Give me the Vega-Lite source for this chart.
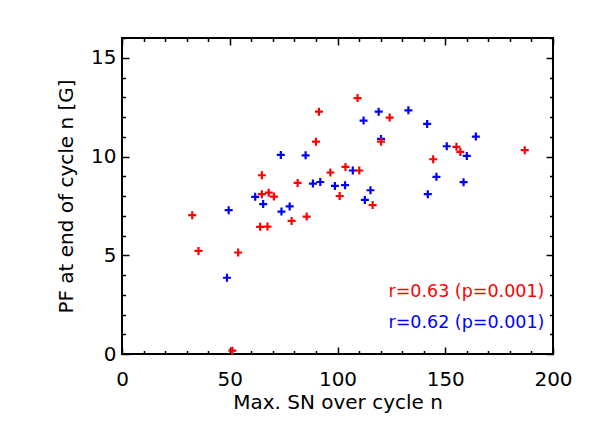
{
  "$schema": "https://vega.github.io/schema/vega-lite/v6.json",
  "width": 431,
  "height": 316,
  "autosize": {"type": "none"},
  "padding": {"left": 122, "top": 38, "right": 38, "bottom": 78},
  "background": "white",
  "config": {
    "view": {"stroke": "black", "strokeWidth": 2},
    "font": "DejaVu Sans",
    "axis": {"grid": false, "domain": false, "labelColor": "black", "titleColor": "black", "tickColor": "black", "labelFont": "DejaVu Sans", "titleFont": "DejaVu Sans", "labelFontSize": 20, "titleFontSize": 20, "titleFontWeight": "normal"}
  },
  "data": {"values": [
    {"sn": 73.7, "pf": 10.08, "series": "Series 2"},
    {"sn": 85.2, "pf": 10.06, "series": "Series 2"},
    {"sn": 88.6, "pf": 8.63, "series": "Series 2"},
    {"sn": 92.0, "pf": 8.71, "series": "Series 2"},
    {"sn": 98.8, "pf": 8.51, "series": "Series 2"},
    {"sn": 61.8, "pf": 7.96, "series": "Series 2"},
    {"sn": 65.5, "pf": 7.59, "series": "Series 2"},
    {"sn": 49.5, "pf": 7.28, "series": "Series 2"},
    {"sn": 74.0, "pf": 7.21, "series": "Series 2"},
    {"sn": 77.8, "pf": 7.47, "series": "Series 2"},
    {"sn": 48.7, "pf": 3.86, "series": "Series 2"},
    {"sn": 112.1, "pf": 11.82, "series": "Series 2"},
    {"sn": 119.1, "pf": 12.27, "series": "Series 2"},
    {"sn": 132.9, "pf": 12.34, "series": "Series 2"},
    {"sn": 141.6, "pf": 11.65, "series": "Series 2"},
    {"sn": 120.2, "pf": 10.89, "series": "Series 2"},
    {"sn": 164.2, "pf": 11.01, "series": "Series 2"},
    {"sn": 150.7, "pf": 10.52, "series": "Series 2"},
    {"sn": 160.0, "pf": 10.03, "series": "Series 2"},
    {"sn": 107.1, "pf": 9.29, "series": "Series 2"},
    {"sn": 103.5, "pf": 8.55, "series": "Series 2"},
    {"sn": 115.3, "pf": 8.29, "series": "Series 2"},
    {"sn": 112.7, "pf": 7.80, "series": "Series 2"},
    {"sn": 145.9, "pf": 8.97, "series": "Series 2"},
    {"sn": 141.9, "pf": 8.09, "series": "Series 2"},
    {"sn": 158.5, "pf": 8.70, "series": "Series 2"},
    {"sn": 91.4, "pf": 12.27, "series": "Series 1"},
    {"sn": 90.0, "pf": 10.75, "series": "Series 1"},
    {"sn": 64.9, "pf": 9.05, "series": "Series 1"},
    {"sn": 96.7, "pf": 9.19, "series": "Series 1"},
    {"sn": 81.5, "pf": 8.66, "series": "Series 1"},
    {"sn": 64.9, "pf": 8.09, "series": "Series 1"},
    {"sn": 68.1, "pf": 8.17, "series": "Series 1"},
    {"sn": 70.5, "pf": 7.97, "series": "Series 1"},
    {"sn": 101.0, "pf": 8.0, "series": "Series 1"},
    {"sn": 32.6, "pf": 7.03, "series": "Series 1"},
    {"sn": 35.5, "pf": 5.22, "series": "Series 1"},
    {"sn": 53.9, "pf": 5.14, "series": "Series 1"},
    {"sn": 64.1, "pf": 6.44, "series": "Series 1"},
    {"sn": 67.5, "pf": 6.45, "series": "Series 1"},
    {"sn": 78.7, "pf": 6.74, "series": "Series 1"},
    {"sn": 85.7, "pf": 6.96, "series": "Series 1"},
    {"sn": 51.2, "pf": 0.17, "series": "Series 1"},
    {"sn": 109.3, "pf": 12.96, "series": "Series 1"},
    {"sn": 124.2, "pf": 11.97, "series": "Series 1"},
    {"sn": 120.2, "pf": 10.75, "series": "Series 1"},
    {"sn": 103.7, "pf": 9.47, "series": "Series 1"},
    {"sn": 110.1, "pf": 9.29, "series": "Series 1"},
    {"sn": 116.3, "pf": 7.54, "series": "Series 1"},
    {"sn": 144.4, "pf": 9.86, "series": "Series 1"},
    {"sn": 155.2, "pf": 10.49, "series": "Series 1"},
    {"sn": 157.0, "pf": 10.23, "series": "Series 1"},
    {"sn": 186.9, "pf": 10.32, "series": "Series 1"}
  ]},
  "resolve": {"axis": {"x": "independent", "y": "independent"}},
  "layer": [
    {
      "mark": {"type": "point", "shape": "M-1,0H1M0,-1V1", "filled": false, "size": 64, "strokeWidth": 2.2, "opacity": 1},
      "encoding": {
        "x": {"field": "sn", "type": "quantitative", "scale": {"domain": [0, 200], "nice": false, "zero": false},
          "axis": {"orient": "bottom", "values": [0, 50, 100, 150, 200], "ticks": false, "labelPadding": 15, "title": "Max. SN over cycle n", "titlePadding": 3, "labelFlush": false}},
        "y": {"field": "pf", "type": "quantitative", "scale": {"domain": [0, 16], "nice": false, "zero": false},
          "axis": {"orient": "left", "values": [0, 5, 10, 15], "ticks": false, "labelPadding": 6, "title": "PF at end of cycle n [G]", "titlePadding": 14, "labelFlush": false}},
        "color": {"field": "series", "type": "nominal", "scale": {"domain": ["Series 1", "Series 2"], "range": ["#ff0000", "#0000ff"]}, "legend": null}
      }
    },
    {
      "mark": {"type": "point", "opacity": 0},
      "encoding": {
        "x": {"field": "sn", "type": "quantitative", "axis": {"orient": "bottom", "values": [0, 50, 100, 150, 200], "labels": false, "title": null, "tickSize": -7, "tickWidth": 1.5}},
        "y": {"field": "pf", "type": "quantitative", "axis": {"orient": "left", "values": [0, 5, 10, 15], "labels": false, "title": null, "tickSize": -7, "tickWidth": 1.5}}
      }
    },
    {
      "mark": {"type": "point", "opacity": 0},
      "encoding": {
        "x": {"field": "sn", "type": "quantitative", "axis": {"orient": "bottom", "values": [10, 20, 30, 40, 60, 70, 80, 90, 110, 120, 130, 140, 160, 170, 180, 190], "labels": false, "title": null, "tickSize": -3.5, "tickWidth": 1.5}},
        "y": {"field": "pf", "type": "quantitative", "axis": {"orient": "left", "values": [1, 2, 3, 4, 6, 7, 8, 9, 11, 12, 13, 14, 16], "labels": false, "title": null, "tickSize": -3.5, "tickWidth": 1.5}}
      }
    },
    {
      "mark": {"type": "point", "opacity": 0},
      "encoding": {
        "x": {"field": "sn", "type": "quantitative", "axis": {"orient": "top", "values": [0, 50, 100, 150, 200], "labels": false, "title": null, "tickSize": -7, "tickWidth": 1.5}},
        "y": {"field": "pf", "type": "quantitative", "axis": {"orient": "right", "values": [0, 5, 10, 15], "labels": false, "title": null, "tickSize": -7, "tickWidth": 1.5}}
      }
    },
    {
      "mark": {"type": "point", "opacity": 0},
      "encoding": {
        "x": {"field": "sn", "type": "quantitative", "axis": {"orient": "top", "values": [10, 20, 30, 40, 60, 70, 80, 90, 110, 120, 130, 140, 160, 170, 180, 190], "labels": false, "title": null, "tickSize": -3.5, "tickWidth": 1.5}},
        "y": {"field": "pf", "type": "quantitative", "axis": {"orient": "right", "values": [1, 2, 3, 4, 6, 7, 8, 9, 11, 12, 13, 14, 16], "labels": false, "title": null, "tickSize": -3.5, "tickWidth": 1.5}}
      }
    },
    {
      "data": {"values": [{"label": "r=0.63 (p=0.001)", "series": "Series 1"}]},
      "mark": {"type": "text", "align": "right", "baseline": "middle", "fontSize": 17.5, "font": "DejaVu Sans", "color": "#ff0000"},
      "encoding": {
        "x": {"datum": 196, "type": "quantitative", "axis": null},
        "y": {"datum": 3.15, "type": "quantitative", "axis": null},
        "text": {"field": "label"}
      }
    },
    {
      "data": {"values": [{"label": "r=0.62 (p=0.001)", "series": "Series 2"}]},
      "mark": {"type": "text", "align": "right", "baseline": "middle", "fontSize": 17.5, "font": "DejaVu Sans", "color": "#0000ff"},
      "encoding": {
        "x": {"datum": 196, "type": "quantitative", "axis": null},
        "y": {"datum": 1.58, "type": "quantitative", "axis": null},
        "text": {"field": "label"}
      }
    }
  ]
}
